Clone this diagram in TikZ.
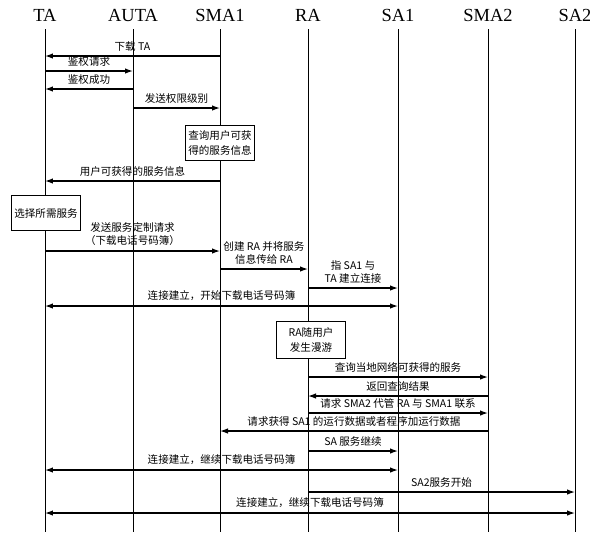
\documentclass[tikz,border=0pt]{standalone}
\usepackage{fontspec}
\setmainfont{Liberation Serif}
\newfontfamily\cjk{Noto Sans CJK SC}
\usetikzlibrary{positioning,arrows.meta,calc}

\begin{document}
\begin{tikzpicture}[x=0.02cm, y=-0.02cm,
    actor/.style={font=\fontsize{10.5}{12}\selectfont, inner sep=1pt},
    life/.style={line width=0.5pt},
    msg/.style={-{Latex[length=1.6mm,width=1.1mm]}, line width=0.7pt},
    both/.style={{Latex[length=1.6mm,width=1.1mm]}-{Latex[length=1.6mm,width=1.1mm]}, line width=0.7pt},
    lbl/.style={font=\cjk\fontsize{6}{7.4}\selectfont, inner sep=2.5pt, align=center},
    actbox/.style={draw, line width=0.7pt, fill=white, font=\cjk\fontsize{6}{9}\selectfont,
        align=center, inner sep=1pt, minimum width=1.37cm, minimum height=0.7cm},
]
\useasboundingbox (0,0) rectangle (590,532);

\node[actor] (ta)   at (45,15)  {TA};
\node[actor] (auta) at (133,15) {AUTA};
\node[actor] (sma1) at (220,15) {SMA1};
\node[actor] (ra)   at (308,15) {RA};
\node[actor] (sa1)  at (398,15) {SA1};
\node[actor] (sma2) at (488,15) {SMA2};
\node[actor] (sa2)  at (575,15) {SA2};
\coordinate (end) at (0,532);

\foreach \a in {ta,auta,sma1,ra,sa1,sma2,sa2}
  \draw[life] ([yshift=-3.5pt]\a.south) -- (\a |- end);

\coordinate (r1) at (0,56);
\coordinate (r2) at (0,71);
\coordinate (r3) at (0,89);
\coordinate (r4) at (0,108);
\coordinate (r6) at (0,181);
\coordinate (r8) at (0,251);
\coordinate (r9) at (0,269);
\coordinate (r10) at (0,288);
\coordinate (r11) at (0,306);
\coordinate (r13) at (0,377);
\coordinate (r14) at (0,396);
\coordinate (r15) at (0,413);
\coordinate (r16) at (0,431);
\coordinate (r17) at (0,451);
\coordinate (r18) at (0,470);
\coordinate (r19) at (0,492);
\coordinate (r20) at (0,513);

\node[actbox] (chk)  at (220,143) {查询用户可获\\得的服务信息};
\node[actbox] (sel)  at (46,213)  {选择所需服务};
\node[actbox, minimum height=0.74cm] (roam) at (311,340) {RA随用户\\发生漫游};

\draw[msg] (sma1 |- r1) -- node[lbl, above] {下载 TA} (ta |- r1);
\draw[msg] (ta |- r2) -- node[lbl, above] {鉴权请求} (auta |- r2);
\draw[msg] (auta |- r3) -- node[lbl, above] {鉴权成功} (ta |- r3);
\draw[msg] (auta |- r4) -- node[lbl, above] {发送权限级别} (sma1 |- r4);
\draw[msg] (sma1 |- r6) -- node[lbl, above] {用户可获得的服务信息} (ta |- r6);
\draw[msg] (ta |- r8) -- node[lbl, above] {发送服务定制请求\\（下载电话号码簿）} (sma1 |- r8);
\draw[msg] (sma1 |- r9) -- node[lbl, above] {创建 RA 并将服务\\信息传给 RA} (ra |- r9);
\draw[msg] (ra |- r10) -- node[lbl, above] {指 SA1 与\\TA 建立连接} (sa1 |- r10);
\draw[both] (ta |- r11) -- node[lbl, above] {连接建立，开始下载电话号码簿} (sa1 |- r11);
\draw[msg] (ra |- r13) -- node[lbl, above] {查询当地网络可获得的服务} (sma2 |- r13);
\draw[msg] (sma2 |- r14) -- node[lbl, above] {返回查询结果} (ra |- r14);
\draw[msg] (ra |- r15) -- node[lbl, above] {请求 SMA2 代管 RA 与 SMA1 联系} (sma2 |- r15);
\draw[msg] (sma2 |- r16) -- node[lbl, above] {请求获得 SA1 的运行数据或者程序加运行数据} (sma1 |- r16);
\draw[msg] (ra |- r17) -- node[lbl, above] {SA 服务继续} (sa1 |- r17);
\draw[both] (ta |- r18) -- node[lbl, above] {连接建立，继续下载电话号码簿} (sa1 |- r18);
\draw[msg] (ra |- r19) -- node[lbl, above] {SA2服务开始} (sa2 |- r19);
\draw[both] (ta |- r20) -- node[lbl, above] {连接建立，继续下载电话号码簿} (sa2 |- r20);
\end{tikzpicture}
\end{document}
